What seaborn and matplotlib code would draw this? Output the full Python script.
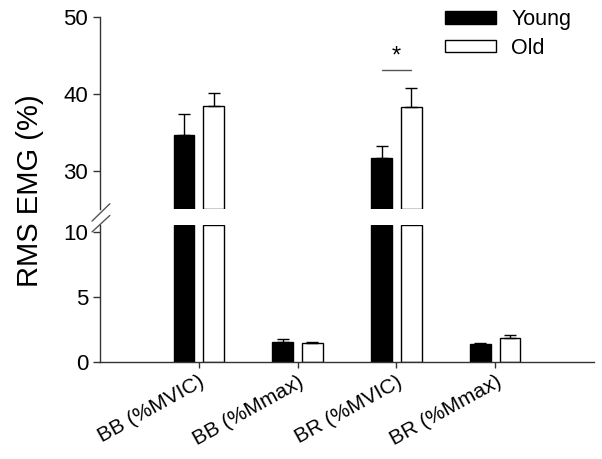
import numpy as np
import pandas as pd
import seaborn as sns
import matplotlib
matplotlib.use("Agg")
import matplotlib.pyplot as plt

# data
categories = ["BB (%MVIC)", "BB (%Mmax)", "BR (%MVIC)", "BR (%Mmax)"]
groups = ["Young", "Old"]
young = [34.7, 1.56, 31.7, 1.36]
young_err = [2.7, 0.19, 1.5, 0.14]
old = [38.4, 1.48, 38.3, 1.82]
old_err = [1.7, 0.04, 2.5, 0.23]

sns.set_style("ticks")
plt.rcParams['font.family'] = ['Liberation Sans', 'DejaVu Sans']
plt.rcParams['text.color'] = 'black'
plt.rcParams['xtick.color'] = '#333333'
plt.rcParams['ytick.color'] = '#333333'
plt.rcParams['xtick.labelcolor'] = 'black'
plt.rcParams['ytick.labelcolor'] = 'black'

df = pd.DataFrame({'cat': categories * 2,
                   'group': ['Young'] * 4 + ['Old'] * 4,
                   'value': young + old,
                   'err': young_err + old_err})

fig = plt.figure(figsize=(6.02, 4.59), dpi=100)
ax_top = fig.add_axes([0.1661, 0.5436, 0.8206, 0.4194])
ax_bot = fig.add_axes([0.1661, 0.2113, 0.8206, 0.2985])

top_lo, top_hi = 25, 50
bot_lo, bot_hi = 0, 10.54
pal = {'Young': 'black', 'Old': 'white'}

bars = {}
for ax in (ax_top, ax_bot):
    sns.barplot(data=df, x='cat', y='value', hue='group', hue_order=groups,
                order=categories, palette=pal, width=0.6, gap=0.3,
                edgecolor='black', linewidth=1, errorbar=None, ax=ax,
                legend=(ax is ax_top))
    bars[ax] = [b for c in ax.containers for b in c]
    xs = [b.get_x() + b.get_width() / 2 for b in bars[ax]]
    ax.errorbar(xs, df['value'], yerr=[np.zeros(len(df)), df['err']],
                fmt='none', ecolor='black', elinewidth=1, capsize=4, capthick=1)
    ax.set_xlim(-1, 4)
    ax.set_xlabel('')
    ax.set_ylabel('')
    sns.despine(ax=ax)
    ax.tick_params(axis='y', labelsize=16, direction='out', length=5, width=1)
    for s in ax.spines.values():
        s.set_linewidth(1)
        s.set_color('#333333')

# upper part starts at the break
for b in bars[ax_top]:
    h = b.get_height()
    if h <= top_lo:
        b.set_visible(False)
    else:
        b.set_y(top_lo)
        b.set_height(h - top_lo)
for b in bars[ax_bot]:
    if b.get_height() > bot_hi:
        b.set_height(bot_hi)

ax_top.set_ylim(top_lo, top_hi)
ax_top.set_yticks([30, 40, 50])
ax_top.spines['bottom'].set_visible(False)
ax_top.tick_params(axis='x', bottom=False, labelbottom=False)

ax_bot.set_ylim(bot_lo, bot_hi)
ax_bot.set_yticks([0, 5, 10])
ax_bot.tick_params(axis='x', direction='out', length=4, width=1, labelsize=15)
ax_bot.set_xticks(range(len(categories)))
ax_bot.set_xticklabels(categories, rotation=29, ha='right', rotation_mode='anchor')

# significance marker for BR (%MVIC)
bx = [b.get_x() + b.get_width() / 2 for b in bars[ax_top]]
ax_top.plot([bx[2], bx[6]], [43.1, 43.1], color='#555555', lw=1)
ax_top.text((bx[2] + bx[6]) / 2, 43.4, '*', ha='center', va='bottom', fontsize=17)

# legend
h, l = ax_top.get_legend_handles_labels()
ax_top.legend(h, l, loc='upper left', bbox_to_anchor=(0.68, 1.085), frameon=False,
              fontsize=15.5, handlelength=2.4, handleheight=0.5, handletextpad=0.7,
              labelspacing=0.35, borderaxespad=0)

# break marks
kw = dict(color='#555555', lw=1, clip_on=False)
ax_top.plot([-0.016, 0.02], [-0.06, 0.03], transform=ax_top.transAxes, **kw)
ax_bot.plot([-0.016, 0.02], [0.95, 1.07], transform=ax_bot.transAxes, **kw)

fig.text(0.05, 0.585, 'RMS EMG (%)', rotation=90, ha='center', va='center', fontsize=21)

fig.savefig('out.png', dpi=100)
